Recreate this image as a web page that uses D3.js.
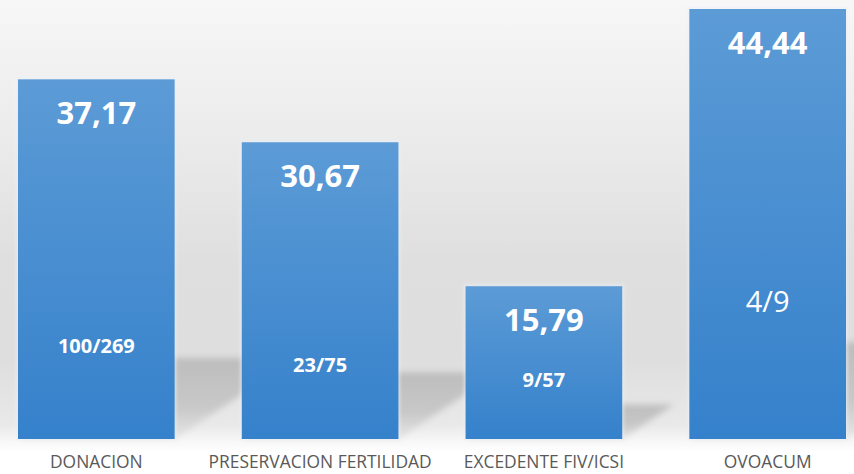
<!DOCTYPE html>
<meta charset="utf-8">
<style>
  body { margin: 0; background: #fff; }
  svg { display: block; font-family: "Open Sans", sans-serif; }
</style>
<body></body>
<script src="https://cdnjs.cloudflare.com/ajax/libs/d3/7.8.5/d3.min.js"></script>
<script>

// data
var categories = ["DONACION", "PRESERVACION FERTILIDAD", "EXCEDENTE FIV/ICSI", "OVOACUM"];
var values = [37.17, 30.67, 15.79, 44.44];
var valueText = ["37,17", "30,67", "15,79", "44,44"];
var fractions = ["100/269", "23/75", "9/57", "4/9"];
var fractionBold = [true, true, true, false];

var width = 854, height = 474;
var base = 439;
// where the small fraction text sits (baseline, px) - placed by hand in the original
var fracY = [353, 372, 387, 312];

var svg = d3.select("body").append("svg")
    .attr("width", width)
    .attr("height", height);

var defs = svg.append("defs");

// background: light at top, greyer in the middle, white floor under the bars
var bg = defs.append("linearGradient")
    .attr("id", "bg")
    .attr("x1", 0).attr("y1", 0).attr("x2", 0).attr("y2", 1);
[[0, "#f7f7f7"], [140, "#ebebeb"], [260, "#dfdfdf"], [360, "#dedede"],
 [425, "#e9e9e9"], [441, "#f7f7f7"], [452, "#ffffff"], [474, "#ffffff"]]
  .forEach(function(s) {
    bg.append("stop").attr("offset", s[0] / height).attr("stop-color", s[1]);
  });

var barGrad = defs.append("linearGradient")
    .attr("id", "barGrad")
    .attr("x1", 0).attr("y1", 0).attr("x2", 0).attr("y2", 1);
barGrad.append("stop").attr("offset", 0).attr("stop-color", "#5c9bd6");
barGrad.append("stop").attr("offset", 1).attr("stop-color", "#3581cb");

var shGrad = defs.append("linearGradient")
    .attr("id", "shGrad")
    .attr("x1", 0).attr("y1", 0).attr("x2", 0).attr("y2", 1);
shGrad.append("stop").attr("offset", 0).attr("stop-color", "#bdbdbd");
shGrad.append("stop").attr("offset", 0.6).attr("stop-color", "#c8c8c8");
shGrad.append("stop").attr("offset", 1).attr("stop-color", "#e6e6e6");

defs.append("filter").attr("id", "blur")
    .attr("x", "-20%").attr("y", "-20%").attr("width", "140%").attr("height", "140%")
  .append("feGaussianBlur").attr("stdDeviation", 3);

defs.append("filter").attr("id", "glow")
    .attr("x", "-10%").attr("y", "-10%").attr("width", "120%").attr("height", "120%")
  .append("feGaussianBlur").attr("stdDeviation", 1.5);

svg.append("rect")
    .attr("width", width)
    .attr("height", height)
    .attr("fill", "url(#bg)");

var x = d3.scaleBand()
    .domain(categories)
    .range([18, 846])
    .paddingInner(0.3)
    .paddingOuter(0);

var y = d3.scaleLinear()
    .domain([0, 44.44])
    .range([base, 9]);

var rows = categories.map(function(c, i) {
  return { cat: c, v: values[i], txt: valueText[i], frac: fractions[i], bold: fractionBold[i], fy: fracY[i] };
});

// skewed shadows cast up and to the right behind each bar
svg.append("g")
    .attr("filter", "url(#blur)")
  .selectAll("polygon")
  .data(rows)
  .enter().append("polygon")
    .attr("fill", "url(#shGrad)")
    .attr("points", function(d) {
      var l = x(d.cat), r = l + x.bandwidth();
      var hs = (base - y(d.v)) * 0.225;
      var dx = hs * 1.5;
      return [[l, base], [r, base], [r + dx, base - hs], [l + dx, base - hs]]
        .map(function(p) { return p.join(","); }).join(" ");
    });

// faint light halo round the bars
svg.append("g")
    .attr("filter", "url(#glow)")
    .attr("opacity", 0.55)
  .selectAll("rect")
  .data(rows)
  .enter().append("rect")
    .attr("x", function(d) { return x(d.cat) - 2; })
    .attr("y", function(d) { return y(d.v) - 2; })
    .attr("width", x.bandwidth() + 4)
    .attr("height", function(d) { return base - y(d.v) + 2; })
    .attr("fill", "#e8f0f8");

var bar = svg.append("g")
  .selectAll("g")
  .data(rows)
  .enter().append("g");

bar.append("rect")
    .attr("x", function(d) { return x(d.cat); })
    .attr("y", function(d) { return y(d.v); })
    .attr("width", x.bandwidth())
    .attr("height", function(d) { return base - y(d.v); })
    .attr("fill", "url(#barGrad)");

bar.append("text")
    .attr("x", function(d) { return x(d.cat) + x.bandwidth() / 2; })
    .attr("y", function(d) { return y(d.v) + 45; })
    .attr("text-anchor", "middle")
    .attr("fill", "#fff")
    .attr("font-weight", 700)
    .attr("font-size", 31)
    .text(function(d) { return d.txt; });

bar.append("text")
    .attr("x", function(d) { return x(d.cat) + x.bandwidth() / 2; })
    .attr("y", function(d) { return d.fy; })
    .attr("text-anchor", "middle")
    .attr("fill", "#fff")
    .attr("font-weight", function(d) { return d.bold ? 700 : 400; })
    .attr("font-size", function(d) { return d.bold ? 20 : 29; })
    .text(function(d) { return d.frac; });

// category axis, no line or ticks
var xAxis = svg.append("g")
    .attr("transform", "translate(0," + base + ")")
    .call(d3.axisBottom(x).tickSize(0).tickPadding(17));
xAxis.select(".domain").remove();
xAxis.selectAll("text")
    .attr("font-family", "Open Sans, sans-serif")
    .attr("font-size", 17.4)
    .attr("fill", "#595959");

</script>
